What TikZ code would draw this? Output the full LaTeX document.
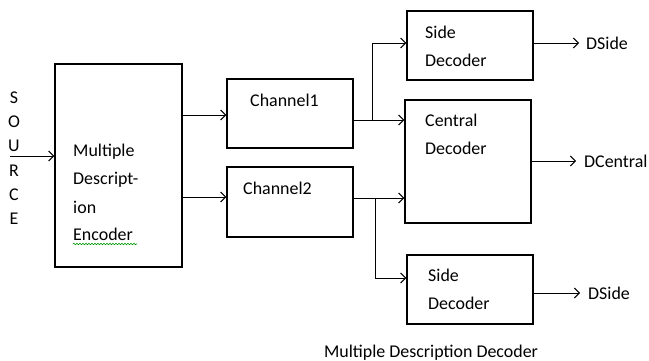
\documentclass[tikz,border=0pt]{standalone}
\usepackage{fontspec}
\setmainfont{Carlito}
\usetikzlibrary{arrows.meta,decorations.pathmorphing}
\begin{document}
\begin{tikzpicture}[x=1bp,y=-1bp,
  box/.style={draw,line width=1.4bp,minimum width=126bp,inner sep=0pt},
  txt/.style={anchor=base west,inner sep=0pt,font=\fontsize{18}{20}\selectfont},
  arr/.style={line width=1bp,-{Straight Barb[length=5bp,width=10bp]}},
  ln/.style={line width=1bp}]
\useasboundingbox (0,0) rectangle (649,360);
% boxes
\node[box,minimum width=127bp,minimum height=203bp] (enc) at (118.5,165.5) {};
\node[box,minimum height=69bp] (ch1) at (290,113.5) {};
\node[box,minimum height=70bp] (ch2) at (290,202) {};
\node[box,minimum height=69bp] (sd1) at (470,45.5) {};
\node[box,minimum height=123bp] (cd) at (468,161.5) {};
\node[box,minimum height=69bp] (sd2) at (470,289.5) {};
% texts
\node[txt] (t1) at (73,156) {Multiple};
\node[txt] (t2) at (73,184) {Descript-};
\node[txt] (t3) at (73,213) {ion};
\node[txt] (t4) at (73,240) {Encoder};
\draw[green!60!black,line width=0.6bp,decorate,decoration={snake,amplitude=0.8bp,segment length=3bp}] (73,244) -- (137,244);
\node[txt] (c1) at (250,106) {Channel1};
\node[txt] (c2) at (243,194) {Channel2};
\node[txt] (s1a) at (425,38) {Side};
\node[txt] (s1b) at (425,66) {Decoder};
\node[txt] (cda) at (425,126) {Central};
\node[txt] (cdb) at (425,154) {Decoder};
\node[txt] (s2a) at (428,281) {Side};
\node[txt] (s2b) at (428,309) {Decoder};
\node[txt] (o1) at (586,49) {DSide};
\node[txt] (o2) at (584,167) {DCentral};
\node[txt] (o3) at (588,299) {DSide};
\node[txt,anchor=base] (cap) at (431,357) {Multiple Description Decoder};
% SOURCE letters
\foreach \l/\yy/\n in {S/103/a,O/127/b,U/151/c,R/176/d,C/200/e,E/224/f}
  \node[txt,anchor=base] (src\n) at (14,\yy) {\l};
% connectors
\coordinate (sin) at (10,156);
\draw[arr] (sin) -- (sin -| enc.west);
\coordinate (e1) at (182,115);
\coordinate (e2) at (182,197);
\draw[arr] (e1 -| enc.east) -- (e1 -| ch1.west);
\draw[arr] (e2 -| enc.east) -- (e2 -| ch2.west);
\coordinate (b1) at (372,120);
\coordinate (b1t) at (372,43);
\draw[ln] (b1 -| ch1.east) -- (b1);
\draw[arr] (b1) -- (b1 -| cd.west);
\draw[arr] (b1) -- (b1t) -- (b1t -| sd1.west);
\coordinate (b2) at (375,198);
\coordinate (b2b) at (375,278);
\draw[ln] (b2 -| ch2.east) -- (b2);
\draw[arr] (b2) -- (b2 -| cd.west);
\draw[arr] (b2) -- (b2b) -- (b2b -| sd2.west);
\coordinate (r1) at (579,43);
\coordinate (r2) at (576,161);
\coordinate (r3) at (580,293);
\draw[arr] (r1 -| sd1.east) -- (r1);
\draw[arr] (r2 -| cd.east) -- (r2);
\draw[arr] (r3 -| sd2.east) -- (r3);
\end{tikzpicture}
\end{document}
